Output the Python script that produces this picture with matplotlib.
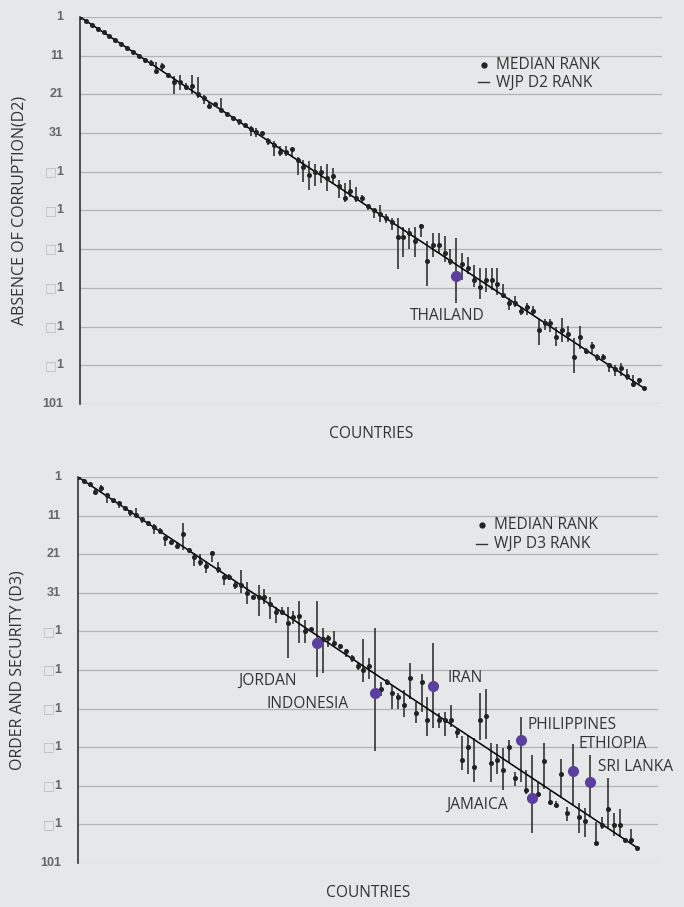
import numpy as np
import matplotlib
matplotlib.use('Agg')
from matplotlib import pyplot as plt

# countries sorted by WJP rank (x position == WJP rank)
countries = list(range(1, 98))

# D2: absence of corruption -- median rank of indicators, with min/max range
d2_med = [1, 2, 3, 4, 4.9, 6, 7, 8, 9, 10,
          11, 12, 13, 15, 13.8, 16, 17.9, 17.9, 19, 18.8,
          21, 22, 24, 23.6, 25, 26, 27, 28, 29, 30,
          30.6, 31, 33, 34.1, 36, 36, 35, 38, 39.8, 41.8,
          41, 41, 42.7, 42, 44.8, 47.8, 46, 47.8, 47.8, 49.8,
          50.9, 52, 53, 53.9, 57.9, 57.9, 56.9, 59, 54.9, 64,
          59.9, 59.9, 61.9, 64, 68, 64.9, 65.9, 68.9, 70.9, 68.9,
          68.9, 70, 72.8, 75, 74.8, 76.9, 76, 76.9, 81.9, 80,
          80, 83.6, 81.9, 82.9, 88.8, 83.8, 87.2, 86, 88.8, 88.8,
          90.9, 92, 91.8, 93.9, 95.8, 94.8, 97]
d2_lo = [1, 2, 3, 3.6, 4.6, 6, 6.5, 7.4, 9, 10,
         11, 11.5, 12.1, 12.7, 12.8, 16, 16.2, 16.1, 18, 16,
         16.5, 21.2, 23, 23.3, 22, 26, 27, 27.6, 28.6, 29.3,
         29.8, 30.7, 32.4, 33, 34.3, 34.3, 34.9, 37.2, 38, 38.2,
         39, 39.5, 39, 40, 43, 43.9, 43, 44.9, 47, 49.5,
         50.5, 49.5, 52, 53, 53, 55.2, 55.6, 55.2, 54.5, 59,
         56.9, 56.9, 57.6, 61, 58, 62, 62.9, 65.1, 65.9, 65.9,
         65.9, 65.9, 70, 73.7, 73.1, 75.9, 75, 75.7, 79, 79.1,
         79.1, 81, 78.9, 80.8, 84, 80.8, 86.5, 85, 88, 88,
         90.3, 90.9, 90.3, 92, 93.5, 94.4, 97]
d2_hi = [1, 2, 3, 4.6, 5.2, 6, 7.6, 8.3, 9, 10,
         11, 12.8, 13.7, 15.3, 14.7, 16, 20.9, 19.9, 19.8, 21,
         22, 23.5, 24.4, 24, 25.2, 26, 27, 28.8, 29.5, 31.7,
         32, 31.3, 34, 36.9, 36.9, 36.9, 37, 41.8, 43.6, 45.7,
         44.8, 44, 45.9, 44, 47.8, 48.7, 47.4, 48.7, 48.7, 50.8,
         53, 54, 54.2, 56, 66, 62.9, 61, 62.9, 57.9, 70.5,
         62.9, 62, 64.2, 65.1, 75, 68.9, 67.4, 70.9, 73.9, 72,
         71.5, 72.9, 73.7, 76.7, 75.9, 78, 78, 78, 85.8, 81.9,
         82.5, 86, 84.9, 84.9, 92.9, 86.8, 88, 87.8, 90, 89.7,
         92.7, 93.9, 93.8, 94.8, 96.5, 95.8, 97]

# D3: order and security
d3_med = [1, 2, 2.8, 4.8, 3.9, 5.7, 7, 7.8, 9, 10,
          10.8, 12, 13, 13.9, 15, 16.9, 17.8, 18.9, 15.8, 19.9,
          21.8, 22.9, 24, 20.8, 24.9, 27, 27, 29, 29, 31,
          32, 32, 32, 33.9, 35.9, 35.9, 38.9, 37.2, 37, 40.9,
          40.5, 44.1, 43, 42.8, 43.9, 44.9, 46.1, 48, 50, 51,
          50, 57, 56, 54, 57, 57.9, 60, 53, 62.1, 54,
          63.9, 55.1, 63.9, 63.9, 63.9, 67, 74.2, 71, 76, 63.9,
          63, 75, 74.2, 76.9, 71, 79, 69.1, 82.1, 84.1, 83.1,
          74.5, 85.1, 86.1, 77.9, 88.1, 77.1, 89.1, 90, 80.1, 95.7,
          91.2, 87.1, 91.2, 91.2, 95, 95, 97]
d3_lo = [1, 1.6, 2.5, 4.2, 3.1, 5.2, 6.6, 7.3, 8.6, 9.5,
         9, 11.5, 12.5, 13.2, 14.3, 16.3, 17.2, 18.2, 13, 19.5,
         20.8, 21, 22.7, 20.1, 22.9, 26.4, 26.2, 28.1, 25.1, 28.1,
         31.6, 29, 30.1, 32.2, 34.8, 34.8, 34.6, 35.6, 33, 38,
         40.1, 33, 40.2, 42, 41, 44.3, 45.5, 47.2, 49, 43,
         48, 40.2, 54, 53.4, 54.9, 57, 56.2, 49.1, 59.2, 52,
         58, 44, 62.2, 62, 60, 66.3, 68, 68.1, 68.5, 57,
         56, 70, 70.2, 71.3, 69.1, 77.3, 63.1, 77, 73, 80.1,
         70, 82.3, 85, 74.1, 86.4, 70.2, 85.4, 86.8, 73, 90.5,
         89.2, 79, 88, 87.1, 94.4, 92.3, 97]
d3_hi = [1, 2.5, 3.6, 5.1, 4.8, 7.8, 7.8, 9, 9.6, 11,
         11.3, 12.9, 13.6, 15.8, 15.8, 18.9, 18.4, 19.2, 19.9, 20.8,
         24, 24, 26, 22.9, 25.8, 29, 27.8, 30, 31, 33.9,
         32.7, 37, 33.9, 37.9, 38.9, 36.8, 48, 39, 43.9, 43.9,
         41.2, 52.8, 51.9, 45, 44.9, 45.5, 47.7, 49, 51, 54,
         53.4, 71.9, 57.8, 55, 61.2, 61, 63.1, 58.6, 64.8, 61.8,
         68, 66, 66.1, 68, 65.7, 68.5, 77, 78, 80, 69.1,
         68.9, 80, 78, 82.1, 75, 81, 80, 83.1, 93.1, 84,
         81.7, 86, 86.5, 84.2, 90, 86, 93.1, 94.2, 89, 96.1,
         92.3, 92, 94, 94.3, 95.6, 95.9, 97]

d2_highlight = {65: 'THAILAND'}
d3_highlight = {42: 'JORDAN', 52: 'INDONESIA', 62: 'IRAN', 77: 'PHILIPPINES',
                79: 'JAMAICA', 86: 'ETHIOPIA', 89: 'SRI LANKA'}

yticks = [1, 11, 21, 31, 41, 51, 61, 71, 81, 91, 101]

BG = '#e6e7e8'
PURPLE = '#5b3f9f'
TXT = ['Open Sans', 'DejaVu Sans']

# label offsets in pixels from the highlighted point
label_off = {'THAILAND': (-46, -40), 'JORDAN': (-79, -37), 'INDONESIA': (-108, -11),
             'IRAN': (14, 8), 'PHILIPPINES': (7, 15), 'JAMAICA': (-86, -7),
             'ETHIOPIA': (6, 27), 'SRI LANKA': (8, 15)}


def tick_text(ax, v, s, dx, **kw):
    ax.annotate(s, xy=(0, v), xycoords=('axes fraction', 'data'),
                xytext=(dx, 0), textcoords='offset pixels',
                ha='right', va='center', **kw)


def panel(ax, med, lo, hi, highlight, ylabel, code, xmax, leg):
    ax.set_facecolor(BG)
    x = np.array(countries)
    for v in yticks:
        ax.axhline(v, color='#b3b3b3', lw=0.9, zorder=0)
    ax.vlines(x, lo, hi, color='#333333', lw=1.2, zorder=2)
    ax.plot(x, countries, color='black', lw=1.1, zorder=3)
    mask = np.array([i not in highlight for i in countries])
    ax.plot(x[mask], np.array(med)[mask], 'o', color='#222222', ms=2.6, zorder=4)
    for i, name in highlight.items():
        ax.plot(i, med[i - 1], 'o', color=PURPLE, ms=7, zorder=5)
        ax.annotate(name, xy=(i, med[i - 1]), xytext=label_off[name],
                    textcoords='offset pixels', ha='left', va='center',
                    fontsize=11.2, color='#333333', family=TXT)
    ax.set_xlim(1, xmax)
    ax.set_ylim(101, 1)
    ax.set_xticks([])
    ax.set_yticks([])
    for s in ['top', 'right', 'bottom']:
        ax.spines[s].set_visible(False)
    ax.spines['left'].set_color('#333333')
    ax.spines['left'].set_linewidth(1.2)
    # y tick labels, the lost digit shown as an empty box like in the source
    for v in yticks:
        bold = dict(fontsize=9, fontweight='bold', color='#666666',
                    family='Liberation Sans')
        if v in (41, 51, 61, 71, 81, 91):
            tick_text(ax, v, '1', -17, **bold)
            tick_text(ax, v, '\u25a1', -23, fontsize=9, color='#bbbbbb',
                      family='DejaVu Sans')
        else:
            tick_text(ax, v, str(v), -17, **bold)
    ax.set_ylabel(ylabel, fontsize=11.5, color='#333333', family=TXT, labelpad=38)
    ax.set_xlabel('COUNTRIES', fontsize=11.2, color='#333333', family=TXT, labelpad=16)
    dot_x, txt_x, y1, y2 = leg
    ax.plot([dot_x], [y1], 'o', color='#222222', ms=3.5, transform=ax.transAxes,
            clip_on=False)
    ax.text(txt_x, y1, 'MEDIAN RANK', transform=ax.transAxes, fontsize=11.2,
            color='#333333', family=TXT, va='center')
    ax.plot([dot_x - 0.011, dot_x + 0.008], [y2, y2], color='#333333', lw=1.0,
            transform=ax.transAxes, clip_on=False)
    ax.text(txt_x, y2, 'WJP %s RANK' % code, transform=ax.transAxes,
            fontsize=11.2, color='#333333', family=TXT, va='center')


fig = plt.figure(figsize=(6.84, 9.07), dpi=100)
fig.patch.set_facecolor(BG)

ax1 = fig.add_axes([0.117, 0.5546, 0.851, 0.4267])
panel(ax1, d2_med, d2_lo, d2_hi, d2_highlight, 'ABSENCE OF CORRUPTION(D2)', 'D2', 100,
      (0.694, 0.715, 0.876, 0.831))

ax2 = fig.add_axes([0.114, 0.0485, 0.848, 0.4256])
panel(ax2, d3_med, d3_lo, d3_hi, d3_highlight, 'ORDER AND SECURITY (D3)', 'D3', 100.6,
      (0.697, 0.717, 0.876, 0.827))

fig.savefig('out.png', dpi=100, facecolor=BG)
